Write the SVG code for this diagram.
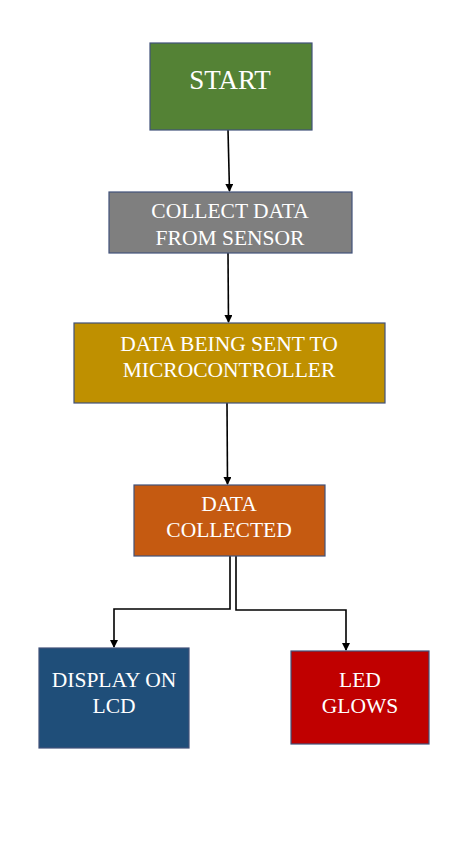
<svg xmlns="http://www.w3.org/2000/svg" width="474" height="846" viewBox="0 0 474 846">
<defs>
<style>
.box{stroke:#41527a;stroke-width:1.2}
.t{font-family:"Liberation Serif",serif;fill:#ffffff;text-anchor:middle;font-size:21.5px}
.c{fill:none;stroke:#000;stroke-width:1.6}
</style>
<marker id="ah" markerWidth="8" markerHeight="8" refX="7" refY="4" orient="auto" markerUnits="userSpaceOnUse">
<path d="M0,0 L8,4 L0,8 z" fill="#000"/>
</marker>
</defs>
<rect width="474" height="846" fill="#fff"/>
<g id="connectors">
<path class="c" d="M228,130 L229.5,191" marker-end="url(#ah)"/>
<path class="c" d="M228,253 L228.5,322" marker-end="url(#ah)"/>
<path class="c" d="M227,403 L227.5,484" marker-end="url(#ah)"/>
<path class="c" d="M230,556 L230,609 L114,609 L114,647" marker-end="url(#ah)"/>
<path class="c" d="M236,556 L236,610 L346,610 L346,650" marker-end="url(#ah)"/>
</g>
<g id="start">
<rect class="box" x="150" y="43" width="162" height="87" fill="#548235"/>
<text class="t" x="230" y="89" style="font-size:27px">START</text>
</g>
<g id="collect">
<rect class="box" x="109" y="192" width="243" height="61" fill="#7f7f7f"/>
<text class="t" x="230" y="218">COLLECT DATA</text>
<text class="t" x="230" y="245">FROM SENSOR</text>
</g>
<g id="sent">
<rect class="box" x="74" y="323" width="311" height="80" fill="#bf9000"/>
<text class="t" x="229" y="351">DATA BEING SENT TO</text>
<text class="t" x="229" y="377">MICROCONTROLLER</text>
</g>
<g id="collected">
<rect class="box" x="134" y="485" width="191" height="71" fill="#c55a11"/>
<text class="t" x="229" y="511">DATA</text>
<text class="t" x="229" y="537">COLLECTED</text>
</g>
<g id="display">
<rect class="box" x="39" y="648" width="150" height="100" fill="#1f4e79" stroke="#1f4e79"/>
<text class="t" x="114" y="687">DISPLAY ON</text>
<text class="t" x="114" y="713">LCD</text>
</g>
<g id="led">
<rect class="box" x="291" y="651" width="138" height="93" fill="#c00000"/>
<text class="t" x="360" y="687">LED</text>
<text class="t" x="360" y="713">GLOWS</text>
</g>
</svg>
